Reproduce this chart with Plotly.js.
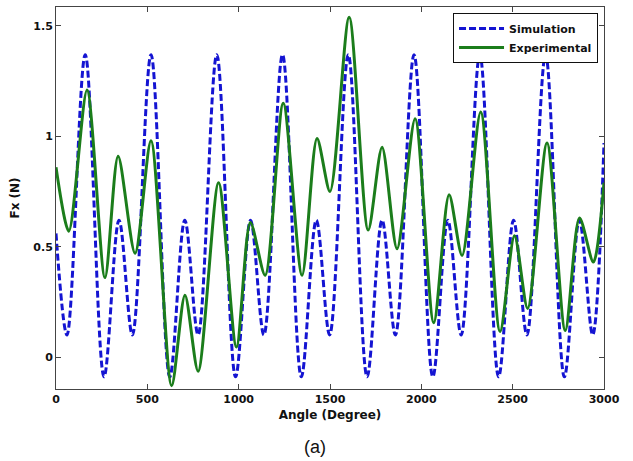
<!DOCTYPE html>
<html>
<head>
<meta charset="utf-8">
<script src="https://cdn.plot.ly/plotly-3.0.1.min.js"></script>
<style>html,body{margin:0;padding:0;background:#fff;}#chart{width:633px;height:461px;}</style>
</head>
<body>
<div id="chart"></div>
<script>
// Simulation (blue dashed)
const simAngle = [0, 60, 160, 263, 345, 418, 520, 623, 705, 778, 880, 983, 1065, 1138, 1240, 1343, 1425, 1498, 1600, 1703, 1785, 1858, 1960, 2063, 2145, 2218, 2320, 2423, 2505, 2578, 2680, 2783, 2865, 2938, 3000];
const simFx = [0.56, 0.10, 1.37, -0.09, 0.62, 0.10, 1.37, -0.09, 0.62, 0.10, 1.37, -0.09, 0.62, 0.10, 1.37, -0.09, 0.62, 0.10, 1.37, -0.09, 0.62, 0.10, 1.37, -0.09, 0.62, 0.10, 1.37, -0.09, 0.62, 0.10, 1.37, -0.09, 0.62, 0.10, 0.97];

// Experimental (green solid)
const expAngle = [0, 70, 170, 268, 340, 433, 520, 633, 706, 778, 890, 988, 1064, 1145, 1244, 1347, 1429, 1500, 1605, 1709, 1785, 1867, 1966, 2068, 2152, 2223, 2325, 2431, 2510, 2582, 2688, 2788, 2866, 2942, 3000];
const expFx = [0.86, 0.57, 1.21, 0.36, 0.91, 0.47, 0.98, -0.13, 0.28, -0.065, 0.79, 0.045, 0.61, 0.37, 1.15, 0.37, 0.99, 0.75, 1.54, 0.575, 0.95, 0.49, 1.08, 0.155, 0.735, 0.46, 1.11, 0.115, 0.55, 0.22, 0.97, 0.12, 0.63, 0.43, 0.79];

const xTicks = [0, 500, 1000, 1500, 2000, 2500, 3000];
const xTickText = ['0', '500', '1000', '1500', '2000', '2500', '3000'];
const yTicks = [0, 0.5, 1, 1.5];
const yTickText = ['0', '0.5', '1', '1.5'];

const fam = "'DejaVu Sans', Verdana, sans-serif";
const famA = "'Liberation Sans', Arial, sans-serif";
const tickFont = {family: fam, size: 11, color: '#111'};

const traces = [
  {x: simAngle, y: simFx, name: '<b>Simulation</b>', mode: 'lines', type: 'scatter',
   line: {color: '#1414d2', width: 3, dash: '7px,3px', shape: 'spline', smoothing: 1}},
  {x: expAngle, y: expFx, name: '<b>Experimental</b>', mode: 'lines', type: 'scatter',
   line: {color: '#1b7d1b', width: 3, shape: 'spline', smoothing: 0.8}}
];

const axisCommon = {showline: true, linecolor: '#444', linewidth: 1, mirror: 'ticks', ticks: 'inside',
  ticklen: 5, tickcolor: '#444', showgrid: false, zeroline: false, tickfont: tickFont};

const layout = {
  width: 633, height: 461,
  margin: {l: 56, r: 29, t: 7, b: 72},
  paper_bgcolor: '#fff', plot_bgcolor: '#fff',
  showlegend: true,
  legend: {x: 0.7245, y: 0.984, xanchor: 'left', yanchor: 'top', bgcolor: '#fff',
    bordercolor: '#111', borderwidth: 1, font: {family: fam, size: 11, color: '#111'},
    tracegroupgap: 0, itemwidth: 45},
  xaxis: Object.assign({}, axisCommon, {range: [0, 3000], tickvals: xTicks, ticktext: xTickText.map(t => '<b>' + t + '</b>'),
    title: {text: '<b>Angle (Degree)</b>', font: {family: fam, size: 12, color: '#111'}, standoff: 5}}),
  yaxis: Object.assign({}, axisCommon, {range: [-0.145, 1.586], tickvals: yTicks, ticktext: yTickText.map(t => '<b>' + t + '</b>'),
    title: {text: '<b>Fx (N)</b>', font: {family: fam, size: 12, color: '#111'}, standoff: 11}}),
  annotations: [{text: '(a)', xref: 'paper', yref: 'paper', x: 0.473, y: -0.152, xanchor: 'center', yanchor: 'middle',
    showarrow: false, font: {family: famA, size: 18, color: '#111'}}]
};

Plotly.newPlot('chart', traces, layout, {displayModeBar: false, staticPlot: true});
</script>
</body>
</html>
